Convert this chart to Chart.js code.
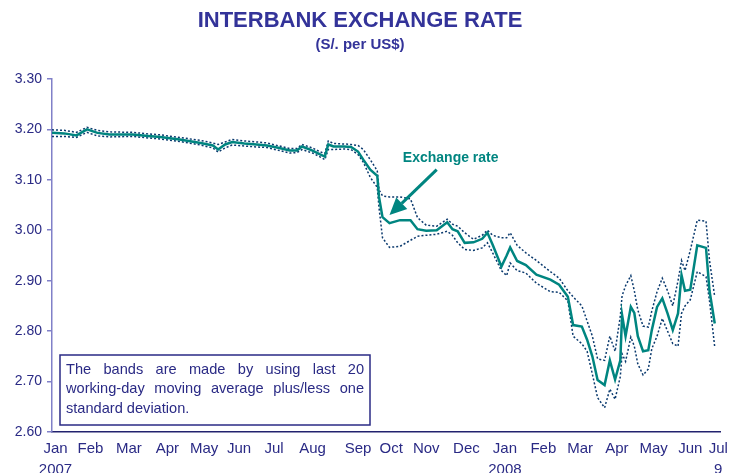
<!DOCTYPE html>
<html>
<head>
<meta charset="utf-8">
<title>Interbank exchange rate</title>
<script src="https://cdn.jsdelivr.net/npm/chart.js@4.4.0/dist/chart.umd.min.js"></script>
<style>
  body { margin: 0; background: #fff; }
  #grafico { display: block; }
</style>
</head>
<body>
<canvas id="grafico" width="739" height="473"></canvas>
<script>
// dia habil contado desde el 2 de enero de 2007
const dias = [0, 7, 14, 20, 26, 33, 46, 55, 62, 73, 85, 92, 95, 99, 103, 110, 117, 123, 130, 136,
  140, 143, 149, 153, 156, 158, 161, 167, 171, 175, 178, 182, 186, 187, 189, 193, 199, 205, 209, 214,
  220, 226, 229, 232, 236, 241, 246, 249, 252, 257, 260, 262, 266, 271, 277, 285, 290, 295, 298, 303,
  306, 309, 312, 316, 319, 322, 325, 326, 328, 331, 333, 335, 338, 341, 343, 346, 349, 352, 355, 358,
  360, 362, 365, 369, 374, 376, 379];

const tipoCambio = [3.193, 3.192, 3.188, 3.200, 3.193, 3.190, 3.190, 3.187, 3.185, 3.180, 3.173, 3.168, 3.160, 3.170, 3.175, 3.172, 3.170, 3.168, 3.163, 3.158,
  3.158, 3.166, 3.158, 3.151, 3.146, 3.170, 3.166, 3.166, 3.165, 3.156, 3.140, 3.120, 3.108, 3.066, 3.026, 3.014, 3.020, 3.020, 3.002, 2.999,
  3.000, 3.016, 3.002, 2.998, 2.975, 2.976, 2.983, 2.995, 2.971, 2.928, 2.950, 2.966, 2.939, 2.931, 2.912, 2.902, 2.892, 2.868, 2.812, 2.809,
  2.783, 2.750, 2.703, 2.693, 2.742, 2.704, 2.742, 2.832, 2.790, 2.848, 2.836, 2.790, 2.760, 2.762, 2.802, 2.848, 2.865, 2.835, 2.802, 2.835,
  2.911, 2.880, 2.882, 2.970, 2.965, 2.880, 2.815];

const bandaSup = [3.199, 3.198, 3.194, 3.204, 3.198, 3.195, 3.194, 3.191, 3.189, 3.184, 3.178, 3.173, 3.170, 3.175, 3.180, 3.177, 3.175, 3.173, 3.167, 3.162,
  3.162, 3.170, 3.163, 3.156, 3.152, 3.177, 3.172, 3.171, 3.170, 3.168, 3.160, 3.140, 3.118, 3.080, 3.068, 3.066, 3.066, 3.062, 3.025, 3.010,
  3.008, 3.022, 3.012, 3.008, 2.995, 2.982, 2.990, 3.000, 2.990, 2.985, 2.985, 2.995, 2.970, 2.955, 2.940, 2.918, 2.905, 2.880, 2.868, 2.850,
  2.820, 2.790, 2.745, 2.742, 2.790, 2.760, 2.830, 2.870, 2.890, 2.910, 2.880, 2.842, 2.810, 2.808, 2.840, 2.878, 2.905, 2.880, 2.850, 2.900,
  2.940, 2.920, 2.960, 3.020, 3.018, 2.940, 2.868];

const bandaInf = [3.186, 3.186, 3.184, 3.194, 3.187, 3.185, 3.186, 3.183, 3.181, 3.176, 3.169, 3.163, 3.155, 3.163, 3.169, 3.167, 3.165, 3.164, 3.158, 3.153,
  3.154, 3.160, 3.153, 3.146, 3.140, 3.160, 3.160, 3.161, 3.160, 3.150, 3.135, 3.105, 3.085, 3.045, 2.985, 2.966, 2.968, 2.980, 2.988, 2.990,
  2.992, 2.998, 2.990, 2.975, 2.962, 2.960, 2.965, 2.975, 2.955, 2.920, 2.910, 2.935, 2.920, 2.915, 2.895, 2.878, 2.877, 2.860, 2.790, 2.775,
  2.760, 2.715, 2.668, 2.648, 2.685, 2.665, 2.710, 2.755, 2.740, 2.788, 2.770, 2.735, 2.713, 2.725, 2.765, 2.790, 2.825, 2.800, 2.775, 2.770,
  2.835, 2.850, 2.862, 2.918, 2.908, 2.860, 2.768];

// etiquetas del eje x y el dia donde va cada una
const diasMes = [2, 22, 44, 66, 87, 107, 127, 149, 175, 194, 214, 237, 259, 281, 302, 323, 344, 365, 381];
const etiquetasMes = [["Jan", "2007"], "Feb", "Mar", "Apr", "May", "Jun", "Jul", "Aug", "Sep", "Oct", "Nov", "Dec",
  ["Jan", "2008"], "Feb", "Mar", "Apr", "May", "Jun", ["Jul", "9"]];

const notaBandas = ["The bands are made by using last 20", "working-day moving average plus/less one", "standard deviation."];
const flechaDesde = [220, 3.12];
const flechaHasta = [193, 3.03];
const textoFlecha = [228, 3.143];

const azul = "#2a2a85";
const teal = "#008580";
const fuente = "'Liberation Sans', Arial, sans-serif";

const puntos = (valores) => dias.map((d, i) => ({ x: d, y: valores[i] }));

// notas: flecha, "Exchange rate" y cuadro de texto
const notas = {
  id: "notas",
  afterDraw(chart) {
    const { ctx, chartArea, scales } = chart;
    const x1 = scales.x.getPixelForValue(flechaDesde[0]);
    const y1 = scales.y.getPixelForValue(flechaDesde[1]);
    const x2 = scales.x.getPixelForValue(flechaHasta[0]);
    const y2 = scales.y.getPixelForValue(flechaHasta[1]);
    const ang = Math.atan2(y2 - y1, x2 - x1);
    const largo = 17, ancho = 8;
    const bx = x2 - largo * Math.cos(ang);
    const by = y2 - largo * Math.sin(ang);

    ctx.save();
    ctx.strokeStyle = teal;
    ctx.fillStyle = teal;
    ctx.lineWidth = 3;
    ctx.beginPath();
    ctx.moveTo(x1, y1);
    ctx.lineTo(bx, by);
    ctx.stroke();
    ctx.beginPath();
    ctx.moveTo(x2, y2);
    ctx.lineTo(bx + ancho * Math.sin(ang), by - ancho * Math.cos(ang));
    ctx.lineTo(bx - ancho * Math.sin(ang), by + ancho * Math.cos(ang));
    ctx.closePath();
    ctx.fill();

    ctx.font = "bold 14px " + fuente;
    ctx.textAlign = "center";
    ctx.textBaseline = "middle";
    ctx.fillText("Exchange rate", scales.x.getPixelForValue(textoFlecha[0]), scales.y.getPixelForValue(textoFlecha[1]));

    // cuadro con la explicacion de las bandas
    const left = chartArea.left + 8;
    const top = chartArea.bottom - 77;
    const w = 310, h = 70;
    ctx.fillStyle = "#fff";
    ctx.fillRect(left, top, w, h);
    ctx.strokeStyle = azul;
    ctx.lineWidth = 1.5;
    ctx.strokeRect(left, top, w, h);

    ctx.fillStyle = azul;
    ctx.font = "14.6px " + fuente;
    ctx.textAlign = "left";
    const anchoTexto = w - 12;
    notaBandas.forEach((linea, i) => {
      const y = top + 14.5 + i * 19.5;
      const palabras = linea.split(" ");
      if (i === notaBandas.length - 1) {
        ctx.fillText(linea, left + 6, y);
        return;
      }
      const total = palabras.reduce((s, p) => s + ctx.measureText(p).width, 0);
      const hueco = (anchoTexto - total) / (palabras.length - 1);
      let px = left + 6;
      palabras.forEach((p) => {
        ctx.fillText(p, px, y);
        px += ctx.measureText(p).width + hueco;
      });
    });
    ctx.restore();
  }
};

const chart = new Chart(document.getElementById("grafico"), {
  type: "line",
  data: {
    datasets: [
      {
        label: "Exchange rate",
        data: puntos(tipoCambio),
        borderColor: teal,
        borderWidth: 2.5,
        pointRadius: 0,
        tension: 0,
      },
      {
        label: "Upper band",
        data: puntos(bandaSup),
        borderColor: "#0b3a6e",
        borderWidth: 1.5,
        borderDash: [2, 2],
        pointRadius: 0,
        tension: 0,
      },
      {
        label: "Lower band",
        data: puntos(bandaInf),
        borderColor: "#0b3a6e",
        borderWidth: 1.5,
        borderDash: [2, 2],
        pointRadius: 0,
        tension: 0,
      },
    ],
  },
  options: {
    responsive: false,
    animation: false,
    devicePixelRatio: 1,
    layout: { padding: { left: 0, right: 19, top: 0, bottom: 0 } },
    plugins: {
      legend: { display: false },
      tooltip: { enabled: false },
      title: {
        display: true,
        text: "INTERBANK EXCHANGE RATE",
        color: "#333399",
        font: { family: fuente, size: 22, weight: "bold" },
        padding: { top: 8, bottom: 0 },
      },
      subtitle: {
        display: true,
        text: "(S/. per US$)",
        color: "#333399",
        font: { family: fuente, size: 15, weight: "bold" },
        padding: { top: 1, bottom: 25.5 },
      },
    },
    scales: {
      x: {
        type: "linear",
        min: 0,
        max: 382,
        grid: { display: false, drawTicks: false },
        border: { display: true, color: "#22226e", width: 1.5 },
        afterBuildTicks: (scale) => {
          scale.ticks = diasMes.map((d) => ({ value: d }));
        },
        afterFit: (scale) => {
          scale.height = 41;
        },
        ticks: {
          autoSkip: false,
          maxRotation: 0,
          padding: 7,
          color: azul,
          font: { family: fuente, size: 15, lineHeight: 1.35 },
          callback: (valor, i) => etiquetasMes[i],
        },
      },
      y: {
        min: 2.6,
        max: 3.3,
        grid: { drawOnChartArea: false, drawTicks: true, tickLength: 5, color: "#8080c8", lineWidth: 1.5 },
        border: { display: true, color: "#8080c8", width: 1.5 },
        afterFit: (scale) => {
          scale.width = 52;
        },
        ticks: {
          stepSize: 0.1,
          padding: 5,
          color: azul,
          font: { family: fuente, size: 14 },
          callback: (valor) => valor.toFixed(2),
        },
      },
    },
  },
  plugins: [notas],
});
</script>
</body>
</html>
